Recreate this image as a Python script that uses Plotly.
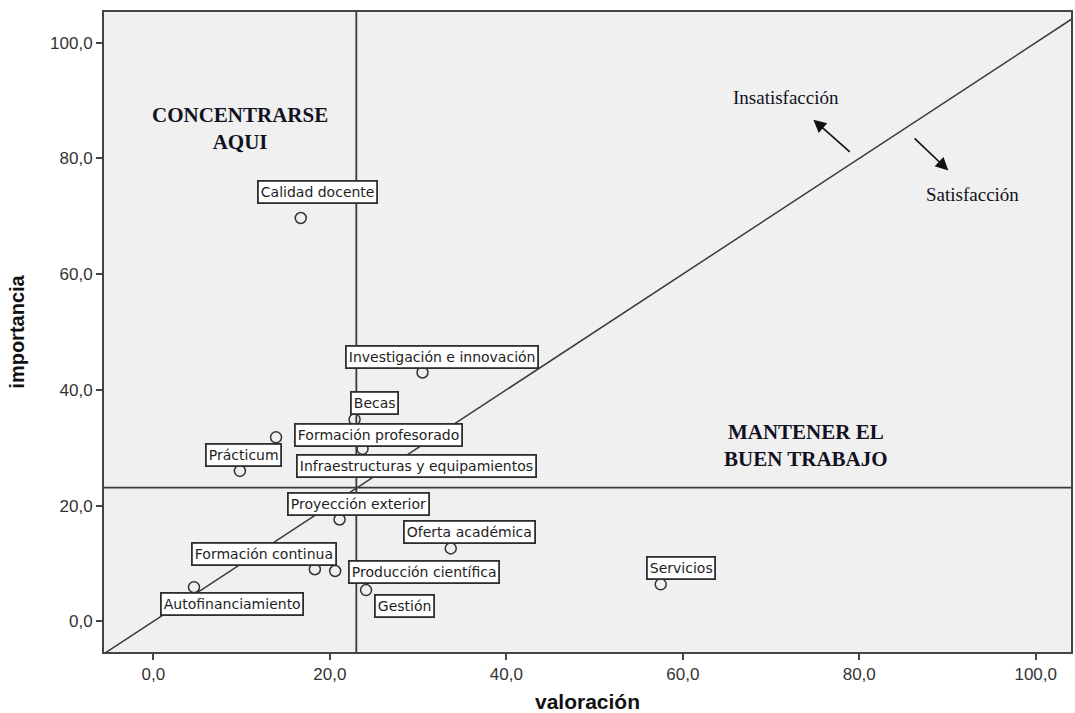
import plotly.graph_objects as go

# ---- data ----
names = ["Calidad docente", "Investigación e innovación", "Becas", "Formación profesorado",
         "Infraestructuras y equipamientos", "Prácticum", "Proyección exterior",
         "Oferta académica", "Formación continua", "Producción científica",
         "Autofinanciamiento", "Gestión", "Servicios"]
valoracion = [16.7, 30.5, 22.8, 13.9, 23.7, 9.8, 21.1, 33.7, 18.3, 20.6, 4.6, 24.1, 57.5]
importancia = [69.7, 43.0, 34.9, 31.8, 29.8, 26.0, 17.6, 12.6, 9.0, 8.7, 5.9, 5.4, 6.4]
mean_valoracion = 23.0
mean_importancia = 23.1
tick_vals = [0, 20, 40, 60, 80, 100]
tick_text = ["0,0", "20,0", "40,0", "60,0", "80,0", "100,0"]

# label box offsets in pixels (dx right, dy up)
label_offsets = {
    "Calidad docente": (17, 26),
    "Investigación e innovación": (19, 16),
    "Becas": (20, 16),
    "Formación profesorado": (102, 2),
    "Infraestructuras y equipamientos": (54, -17),
    "Prácticum": (4, 16),
    "Proyección exterior": (19, 15),
    "Oferta académica": (19, 16),
    "Formación continua": (-51, 15),
    "Producción científica": (89, -1),
    "Autofinanciamiento": (38, -17),
    "Gestión": (38, -16),
    "Servicios": (20, 16),
}

X_RANGE = [-5.6, 104.0]
Y_RANGE = [-5.3, 105.3]
LINE_C = "#3a3a3a"

fig = go.Figure()

# diagonal y = x
fig.add_trace(go.Scatter(x=[-10, 110], y=[-10, 110], mode="lines",
                         line=dict(color=LINE_C, width=1.5), hoverinfo="skip", showlegend=False))

fig.add_trace(go.Scatter(
    x=valoracion, y=importancia, mode="markers", text=names,
    marker=dict(symbol="circle", size=11, color="rgba(240,240,240,1)",
                line=dict(color="#333333", width=1.5)),
    showlegend=False, cliponaxis=False))

# mean lines
fig.add_shape(type="line", xref="x", yref="paper", x0=mean_valoracion, x1=mean_valoracion,
              y0=0, y1=1, line=dict(color=LINE_C, width=1.8), layer="above")
fig.add_shape(type="line", xref="paper", yref="y", x0=0, x1=1, y0=mean_importancia,
              y1=mean_importancia, line=dict(color=LINE_C, width=1.8), layer="above")

for n, vx, vy in zip(names, valoracion, importancia):
    dx, dy = label_offsets[n]
    fig.add_annotation(x=vx, y=vy, text=n, showarrow=False, xshift=dx, yshift=dy,
                       font=dict(family="DejaVu Sans", size=14, color="#1e1e1e"),
                       bgcolor="white", bordercolor="#2e2e2e", borderwidth=1.8, borderpad=2)

serif = "Liberation Serif"
fig.add_annotation(x=9.85, y=85.2, text="<b>CONCENTRARSE<br>AQUI</b>", showarrow=False,
                   font=dict(family=serif, size=21, color="#111122"), align="center")
fig.add_annotation(x=74.0, y=30.4, text="<b>MANTENER EL<br>BUEN TRABAJO</b>", showarrow=False,
                   font=dict(family=serif, size=21, color="#111122"), align="center")
fig.add_annotation(x=71.7, y=90.5, text="Insatisfacción", showarrow=False,
                   font=dict(family=serif, size=19, color="#111122"))
fig.add_annotation(x=92.8, y=73.7, text="Satisfacción", showarrow=False,
                   font=dict(family=serif, size=19, color="#111122"))
# arrows
fig.add_annotation(x=74.8, y=86.7, ax=79.1, ay=80.9, axref="x", ayref="y", xref="x", yref="y",
                   text="", showarrow=True, arrowhead=2, arrowsize=1.6, arrowwidth=1.6,
                   arrowcolor="#111111")
fig.add_annotation(x=90.1, y=77.9, ax=86.1, ay=83.7, axref="x", ayref="y", xref="x", yref="y",
                   text="", showarrow=True, arrowhead=2, arrowsize=1.6, arrowwidth=1.6,
                   arrowcolor="#111111")

axis_common = dict(showgrid=False, zeroline=False, showline=True, mirror=True,
                   linecolor="#444444", linewidth=2, ticks="outside", ticklen=6,
                   tickcolor="#444444", tickwidth=1.5, tickvals=tick_vals, ticktext=tick_text,
                   tickfont=dict(family="Liberation Sans", size=17, color="#333333"))

fig.update_layout(
    width=1075, height=713,
    margin=dict(l=104, r=4, t=12, b=61, autoexpand=False),
    paper_bgcolor="white", plot_bgcolor="#f0f0f0",
    xaxis=dict(range=X_RANGE, **axis_common,
               title=dict(text="<b>valoración</b>", standoff=11,
                          font=dict(family="Liberation Sans", size=21, color="#111111"))),
    yaxis=dict(range=Y_RANGE, **axis_common,
               title=dict(text="<b>importancia</b>", standoff=20,
                          font=dict(family="Liberation Sans", size=20, color="#111111"))),
)

fig.write_html("out.html", config={"displayModeBar": False},
               post_script="document.body.style.margin='0px';document.body.style.overflow='hidden';")
